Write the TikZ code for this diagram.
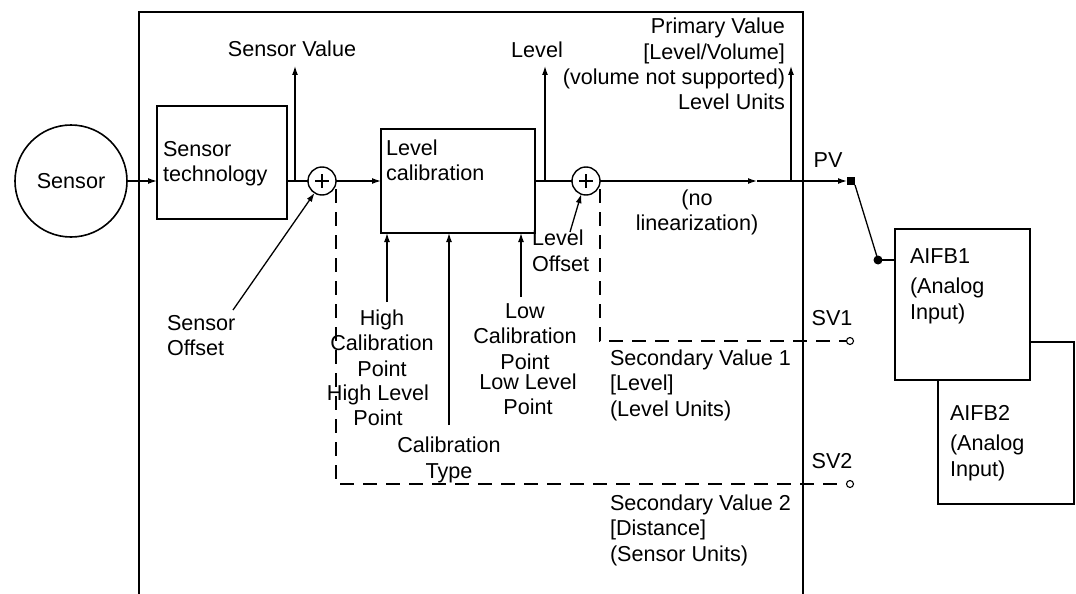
\documentclass[tikz,border=0pt]{standalone}
\usepackage{fontspec}
\setmainfont{Liberation Sans}
\usetikzlibrary{arrows.meta,calc}
\begin{document}
\begin{tikzpicture}[x=1pt,y=-1pt,
  every node/.style={font=\fontsize{21.6}{25.5}\selectfont, inner sep=0pt, outer sep=0pt},
  frm/.style={draw, line width=1.7pt},
  blk/.style={draw, line width=1.7pt, fill=white, rectangle},
  sumc/.style={circle, draw, line width=1.4pt, minimum size=28pt, fill=white},
  conn/.style={line width=1.3pt},
  arr/.style={conn, -{Latex[length=9pt,width=6pt]}},
  dsh/.style={line width=1.2pt, dash pattern=on 14pt off 9pt},
  txt/.style={anchor=base, align=center},
  ltxt/.style={anchor=base west, align=left},
  rtxt/.style={anchor=base east, align=right},
  opn/.style={circle, draw, line width=1.1pt, minimum size=7pt, fill=white},
]
\useasboundingbox (0,0) rectangle (1076,594);

% outer frame (bottom edge lies outside the picture)
\node[frm, minimum width=664pt, minimum height=620pt, anchor=north west] (frame) at (139,12) {};

% sensor and blocks (text anchors: baseline of the last line)
\node[circle, draw, line width=1.6pt, minimum size=112pt] (sensor) at (71,181) {Sensor};
\node[blk, minimum width=130pt, minimum height=113pt] (tech) at (222,162.5) {};
\node[ltxt] (techtxt) at (163,181.5) {Sensor\\technology};
\node[blk, minimum width=154pt, minimum height=104pt] (lcal) at (458,181) {};
\node[ltxt] (lcaltxt) at (386,180.5) {Level\\calibration};

% summing junctions
\node[sumc] (s1) at (322,181) {};
\draw[conn] (s1.center) +(-7,0) -- +(7,0) (s1.center) +(0,-7) -- +(0,7);
\node[sumc] (s2) at (586,181) {};
\draw[conn] (s2.center) +(-7,0) -- +(7,0) (s2.center) +(0,-7) -- +(0,7);

% main signal path
\draw[arr] (sensor.east) -- (sensor.east -| tech.west);
\coordinate (svtap) at (295,181);
\coordinate (svout) at (295,66);
\draw[conn] (tech.east |- s1) -- (s1.west);
\draw[arr] (svtap) -- (svout);
\node[txt] (svlab) at (292,57) {Sensor Value};

\draw[arr] (s1.east) -- (s1.east -| lcal.west);

\coordinate (lvtap) at (545,181);
\coordinate (lvout) at (545,66);
\draw[conn] (lcal.east |- s2) -- (s2.west);
\draw[arr] (lvtap) -- (lvout);
\node[txt] (lvlab) at (537,58) {Level};

\coordinate (mid) at (757,181);
\node[rectangle, fill=black, minimum size=8pt] (pvsq) at (851,181) {};
\draw[arr] (s2.east) -- (mid);
\draw[arr] (mid) -- (pvsq.west);
\coordinate (pvtap) at (791,181);
\coordinate (pvout) at (791,66);
\draw[arr] (pvtap) -- (pvout);
\node[rtxt] (pvlab) at (785,110) {Primary Value\\{}[Level/Volume]\\(volume not supported)\\Level Units};
\node[txt] (nolin) at (697,230.5) {(no\\linearization)};
\node[txt] (pvtxt) at (828,167) {PV};

% function blocks
\node[blk, minimum width=136pt, minimum height=162pt, anchor=north west] (aifb2) at (938,342) {};
\node[ltxt] (aifb2txt) at (950,476) {AIFB2\\[5pt](Analog\\Input)};
\node[blk, minimum width=135pt, minimum height=151pt, anchor=north west] (aifb1) at (895,229) {};
\node[ltxt] (aifb1txt) at (910,319) {AIFB1\\[5pt](Analog\\Input)};

\node[circle, fill=black, minimum size=9pt] (dot1) at (878,260) {};
\draw[conn] (pvsq.south east) -- (dot1.center);
\draw[conn] (dot1.center) -- (dot1 -| aifb1.west);

% offsets
\coordinate (soff) at (233,310);
\draw[arr] (soff) -- (s1.238);
\node[ltxt] (sofftxt) at (167,355.5) {Sensor\\Offset};
\coordinate (loff) at (570,232);
\draw[arr] (loff) -- (s2.250);
\node[ltxt] (lofftxt) at (532,271) {Level\\Offset};

% calibration inputs
\coordinate (hcp) at (387,302);
\coordinate (ctp) at (449,425);
\coordinate (lcp) at (521,297);
\draw[arr] (hcp) -- (hcp |- lcal.south);
\draw[arr] (ctp) -- (ctp |- lcal.south);
\draw[arr] (lcp) -- (lcp |- lcal.south);
\node[txt] (hcptxt) at (382,376) {High\\Calibration\\Point};
\node[txt] (hlptxt) at (378,425.5) {High Level\\Point};
\node[txt] (lcptxt) at (525,369) {Low\\Calibration\\Point};
\node[txt] (llptxt) at (528,414.5) {Low Level\\Point};
\node[txt] (cttxt) at (449,478) {Calibration\\Type};

% secondary values
\node[opn] (sv1c) at (850,341) {};
\node[opn] (sv2c) at (850,484) {};
\draw[dsh] (s2.east) ++(0,8) |- (sv1c.west);
\draw[dsh] (s1.east) ++(0,8) |- (sv2c.west);
\node[txt] (sv1lab) at (832,325) {SV1};
\node[txt] (sv2lab) at (832,468) {SV2};
\node[ltxt] (sv1txt) at (610,416) {Secondary Value 1\\{}[Level]\\(Level Units)};
\node[ltxt] (sv2txt) at (610,561) {Secondary Value 2\\{}[Distance]\\(Sensor Units)};
\end{tikzpicture}
\end{document}
